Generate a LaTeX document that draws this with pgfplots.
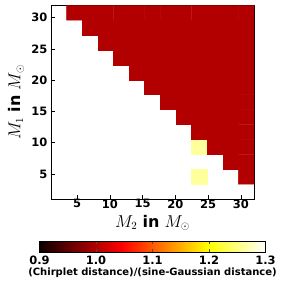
\documentclass[border=0pt]{standalone}
\usepackage[no-math]{fontspec}
\setmainfont{DejaVu Sans}
\usepackage{pgfplots}
\pgfplotsset{compat=1.18}
\usepackage{pgfplotstable}
\pgfplotstableread{
x y c
2.192 2.192 nan
4.577 2.192 nan
6.962 2.192 nan
9.346 2.192 nan
11.731 2.192 nan
14.115 2.192 nan
16.500 2.192 nan
18.885 2.192 nan
21.269 2.192 nan
23.654 2.192 nan
26.038 2.192 nan
28.423 2.192 nan
30.808 2.192 nan
2.192 4.577 nan
4.577 4.577 nan
6.962 4.577 nan
9.346 4.577 nan
11.731 4.577 nan
14.115 4.577 nan
16.500 4.577 nan
18.885 4.577 nan
21.269 4.577 nan
23.654 4.577 1.26
26.038 4.577 nan
28.423 4.577 nan
30.808 4.577 1.0
2.192 6.962 nan
4.577 6.962 nan
6.962 6.962 nan
9.346 6.962 nan
11.731 6.962 nan
14.115 6.962 nan
16.500 6.962 nan
18.885 6.962 nan
21.269 6.962 nan
23.654 6.962 nan
26.038 6.962 nan
28.423 6.962 1.0
30.808 6.962 1.0
2.192 9.346 nan
4.577 9.346 nan
6.962 9.346 nan
9.346 9.346 nan
11.731 9.346 nan
14.115 9.346 nan
16.500 9.346 nan
18.885 9.346 nan
21.269 9.346 nan
23.654 9.346 1.26
26.038 9.346 1.0
28.423 9.346 1.0
30.808 9.346 1.0
2.192 11.731 nan
4.577 11.731 nan
6.962 11.731 nan
9.346 11.731 nan
11.731 11.731 nan
14.115 11.731 nan
16.500 11.731 nan
18.885 11.731 nan
21.269 11.731 nan
23.654 11.731 1.0
26.038 11.731 1.0
28.423 11.731 1.0
30.808 11.731 1.0
2.192 14.115 nan
4.577 14.115 nan
6.962 14.115 nan
9.346 14.115 nan
11.731 14.115 nan
14.115 14.115 nan
16.500 14.115 nan
18.885 14.115 nan
21.269 14.115 1.0
23.654 14.115 1.0
26.038 14.115 1.0
28.423 14.115 1.0
30.808 14.115 1.0
2.192 16.500 nan
4.577 16.500 nan
6.962 16.500 nan
9.346 16.500 nan
11.731 16.500 nan
14.115 16.500 nan
16.500 16.500 nan
18.885 16.500 1.0
21.269 16.500 1.0
23.654 16.500 1.0
26.038 16.500 1.0
28.423 16.500 1.0
30.808 16.500 1.0
2.192 18.885 nan
4.577 18.885 nan
6.962 18.885 nan
9.346 18.885 nan
11.731 18.885 nan
14.115 18.885 nan
16.500 18.885 1.0
18.885 18.885 1.0
21.269 18.885 1.0
23.654 18.885 1.0
26.038 18.885 1.0
28.423 18.885 1.0
30.808 18.885 1.0
2.192 21.269 nan
4.577 21.269 nan
6.962 21.269 nan
9.346 21.269 nan
11.731 21.269 nan
14.115 21.269 1.0
16.500 21.269 1.0
18.885 21.269 1.0
21.269 21.269 1.0
23.654 21.269 1.0
26.038 21.269 1.0
28.423 21.269 1.0
30.808 21.269 1.0
2.192 23.654 nan
4.577 23.654 nan
6.962 23.654 nan
9.346 23.654 nan
11.731 23.654 1.0
14.115 23.654 1.0
16.500 23.654 1.0
18.885 23.654 1.0
21.269 23.654 1.0
23.654 23.654 1.0
26.038 23.654 1.0
28.423 23.654 1.0
30.808 23.654 1.0
2.192 26.038 nan
4.577 26.038 nan
6.962 26.038 nan
9.346 26.038 1.0
11.731 26.038 1.0
14.115 26.038 1.0
16.500 26.038 1.0
18.885 26.038 1.0
21.269 26.038 1.0
23.654 26.038 1.0
26.038 26.038 1.0
28.423 26.038 1.0
30.808 26.038 1.0
2.192 28.423 nan
4.577 28.423 nan
6.962 28.423 1.0
9.346 28.423 1.0
11.731 28.423 1.0
14.115 28.423 1.0
16.500 28.423 1.0
18.885 28.423 1.0
21.269 28.423 1.0
23.654 28.423 1.0
26.038 28.423 1.0
28.423 28.423 1.0
30.808 28.423 1.0
2.192 30.808 nan
4.577 30.808 1.0
6.962 30.808 1.0
9.346 30.808 1.0
11.731 30.808 1.0
14.115 30.808 1.0
16.500 30.808 1.0
18.885 30.808 1.0
21.269 30.808 1.0
23.654 30.808 1.0
26.038 30.808 1.0
28.423 30.808 1.0
30.808 30.808 1.0
}\ratiotable
\begin{document}
\begin{tikzpicture}
\useasboundingbox (0,0) rectangle (283pt,283pt);
\begin{axis}[
  at={(51pt,84pt)}, anchor=south west,
  scale only axis, width=203pt, height=193.7pt,
  xmin=1, xmax=32, ymin=1, ymax=32,
  xtick={5,10,15,20,25,30}, ytick={5,10,15,20,25,30},
  tick align=inside, major tick length=4pt,
  xtick pos=both, ytick pos=both,
  xticklabel pos=lower, yticklabel pos=left,
  tick style={black, line width=0.6pt},
  axis line style={black, line width=0.8pt},
  /pgf/number format/assume math mode=true,
  tick label style={font=\bfseries\fontsize{11.5}{11.5}\selectfont},
  xticklabel style={yshift=3pt},
  xlabel={\fontsize{16}{16}\selectfont$M_2$ \textbf{in} $M_\odot$},
  ylabel={\fontsize{16}{16}\selectfont$M_1$ \textbf{in} $M_\odot$},
  xlabel style={at={(axis description cs:0.5,0)}, anchor=center, yshift=-24pt},
  ylabel style={at={(axis description cs:-0.172,0.5)}, anchor=center},
  colormap={mhot}{rgb(0pt)=(0.0416,0,0) rgb(365pt)=(1,0,0) rgb(746pt)=(1,1,0) rgb(1000pt)=(1,1,1)},
  point meta min=0.9, point meta max=1.3,
  unbounded coords=jump,
  colorbar horizontal,
  colorbar style={
    at={(parent axis.south)}, anchor=north, yshift=-33.7pt,
    scale only axis, width=226pt, height=11pt,
    xtick={0.9,1.0,1.1,1.2,1.3},
    tick align=inside, major tick length=3pt,
    xtick pos=both, xticklabel pos=lower,
    tick style={black!70, line width=0.6pt},
    axis line style={black, line width=0.8pt},
    /pgf/number format/assume math mode=true,
    xticklabel style={font=\bfseries\fontsize{11.5}{11.5}\selectfont,
      /pgf/number format/.cd, fixed, fixed zerofill, precision=1},
    xlabel={\bfseries\fontsize{10}{10}\selectfont (Chirplet distance)/(sine-Gaussian distance)},
    xlabel style={at={(axis description cs:0.5,0)}, anchor=center, yshift=-21pt},
  },
]
\addplot[matrix plot*, mesh/cols=13, point meta=explicit] table[x=x, y=y, meta=c] {\ratiotable};
\end{axis}
\end{tikzpicture}
\end{document}
